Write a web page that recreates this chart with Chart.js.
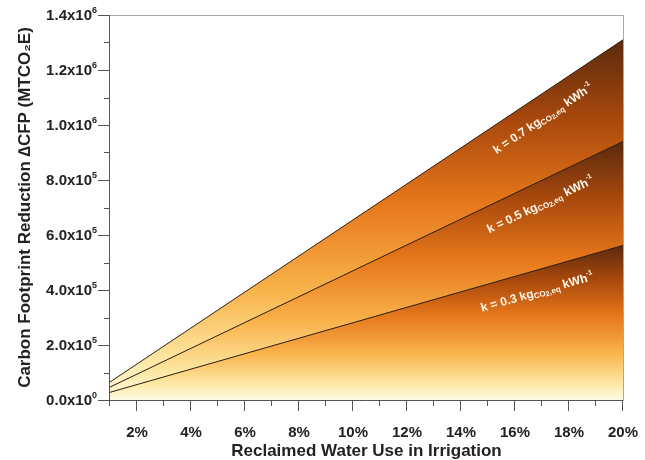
<!DOCTYPE html>
<html>
<head>
<meta charset="UTF-8">
<title>Carbon Footprint Reduction</title>
<script src="https://cdn.jsdelivr.net/npm/chart.js"></script>
<style>
  body { margin: 0; background: #fff; }
  #wrap { width: 645px; height: 460px; }
</style>
</head>
<body>
<div id="wrap"><canvas id="grafico"></canvas></div>
<script>
// reclaimed water use (%) at the two ends of each line
const usoAgua = [1, 20];
// carbon footprint reduction (MTCO2E) per emission factor k
const k07 = [65500, 1310000];
const k05 = [47000, 940000];
const k03 = [28000, 562000];
const fatores = ['0.3', '0.5', '0.7'];
const yMantissa = ['0.0', '2.0', '4.0', '6.0', '8.0', '1.0', '1.2', '1.4'];
const yExpoente = ['0', '5', '5', '5', '5', '6', '6', '6'];
const xTickLabels = ['2%', '4%', '6%', '8%', '10%', '12%', '14%', '16%', '18%', '20%'];

const FONTE = '"Liberation Sans", Arial, sans-serif';
Chart.defaults.font.family = FONTE;
Chart.defaults.color = '#222';

function pontos(valores) {
    return usoAgua.map((x, i) => ({ x: x, y: valores[i] }));
}

// vertical gradient from the top of each area (dark) down to zero (cream)
function gradiente(ctx) {
    const chart = ctx.chart;
    if (!chart.chartArea) return 'rgba(0,0,0,0)';
    const y = chart.scales.y;
    const maximo = Math.max(...ctx.dataset.data.map(p => p.y));
    const topo = y.getPixelForValue(maximo);
    const base = y.getPixelForValue(0);
    const g = chart.ctx.createLinearGradient(0, topo, 0, base);
    g.addColorStop(0, '#5a2a0e');
    g.addColorStop(0.22, '#a8480c');
    g.addColorStop(0.45, '#e6761a');
    g.addColorStop(0.7, '#f9b44c');
    g.addColorStop(0.88, '#fde59e');
    g.addColorStop(1, '#fffbe2');
    return g;
}

function serie(valores) {
    return {
        data: pontos(valores),
        borderColor: '#2b1d10',
        borderWidth: 1,
        pointRadius: 0,
        fill: 'origin',
        backgroundColor: gradiente
    };
}

// frame, tick marks, y labels with exponents and the k labels
const moldura = {
    id: 'moldura',
    afterDatasetsDraw(chart) {
        const ctx = chart.ctx;
        const x = chart.scales.x, y = chart.scales.y;
        chart.data.datasets.forEach((ds, i) => {
            const a = ds.data[0], b = ds.data[ds.data.length - 1];
            const x0 = x.getPixelForValue(a.x), y0 = y.getPixelForValue(a.y);
            const x1 = x.getPixelForValue(b.x), y1 = y.getPixelForValue(b.y);
            const ang = Math.atan2(y1 - y0, x1 - x0);
            const px = x.getPixelForValue(16.6);
            const py = y0 + (px - x0) / (x1 - x0) * (y1 - y0);
            const partes = [
                { t: 'k = ' + fatores[i] + ' kg', s: 12, dy: 0 },
                { t: 'CO', s: 8, dy: 2 },
                { t: '2', s: 7, dy: 3 },
                { t: ',eq', s: 8, dy: 2 },
                { t: ' kWh', s: 12, dy: 0 },
                { t: '-1', s: 7, dy: -6 }
            ];
            ctx.save();
            let total = 0;
            partes.forEach(p => {
                ctx.font = 'bold ' + p.s + 'px ' + FONTE;
                p.w = ctx.measureText(p.t).width;
                total += p.w;
            });
            ctx.translate(px, py);
            ctx.rotate(ang);
            ctx.fillStyle = '#fff6ea';
            ctx.textBaseline = 'alphabetic';
            ctx.textAlign = 'left';
            let cx = -total / 2;
            partes.forEach(p => {
                ctx.font = 'bold ' + p.s + 'px ' + FONTE;
                ctx.fillText(p.t, cx, 25 + p.dy);
                cx += p.w;
            });
            ctx.restore();
        });
    },
    afterDraw(chart) {
        const ctx = chart.ctx;
        const area = chart.chartArea;
        const x = chart.scales.x, y = chart.scales.y;
        ctx.save();
        ctx.lineWidth = 1;
        ctx.strokeStyle = '#a8a8a8';
        ctx.beginPath();
        ctx.moveTo(area.left, area.top + 0.5);
        ctx.lineTo(area.right + 0.5, area.top + 0.5);
        ctx.lineTo(area.right + 0.5, area.bottom);
        ctx.stroke();
        ctx.strokeStyle = '#555';
        ctx.beginPath();
        ctx.moveTo(area.left - 0.5, area.top);
        ctx.lineTo(area.left - 0.5, area.bottom + 0.5);
        ctx.lineTo(area.right + 0.5, area.bottom + 0.5);
        x.ticks.forEach(t => {
            const px = Math.round(x.getPixelForValue(t.value)) - 0.5;
            const len = t.value % 2 === 0 ? 11 : 6;
            ctx.moveTo(px, area.bottom);
            ctx.lineTo(px, area.bottom + len);
        });
        y.ticks.forEach(t => {
            const py = Math.round(y.getPixelForValue(t.value)) + 0.5;
            const len = Math.round(t.value / 100000) % 2 === 0 ? 12 : 6;
            ctx.moveTo(area.left, py);
            ctx.lineTo(area.left - len, py);
        });
        ctx.stroke();

        // y tick labels: mantissa x10 with raised exponent
        ctx.fillStyle = '#222';
        ctx.textBaseline = 'alphabetic';
        ctx.textAlign = 'left';
        y.ticks.forEach(t => {
            const n = Math.round(t.value / 100000);
            if (n % 2 !== 0) return;
            const py = y.getPixelForValue(t.value);
            const base = yMantissa[n / 2] + 'x10';
            const exp = yExpoente[n / 2];
            ctx.font = 'bold 9px ' + FONTE;
            const we = ctx.measureText(exp).width;
            ctx.font = 'bold 15px ' + FONTE;
            const wb = ctx.measureText(base).width;
            const fim = area.left - 13;
            ctx.fillText(base, fim - we - wb, py + 5);
            ctx.font = 'bold 9px ' + FONTE;
            ctx.fillText(exp, fim - we, py - 2);
        });
        ctx.restore();
    }
};

new Chart(document.getElementById('grafico'), {
    type: 'line',
    data: {
        datasets: [serie(k03), serie(k05), serie(k07)]
    },
    options: {
        responsive: true,
        maintainAspectRatio: false,
        animation: false,
        layout: { padding: { top: 15, right: 22, left: 0, bottom: 0 } },
        plugins: {
            legend: { display: false },
            tooltip: { enabled: false }
        },
        scales: {
            x: {
                type: 'linear',
                min: 1,
                max: 20,
                grid: { display: false, drawTicks: false },
                border: { display: false },
                afterFit: s => {
                    s.height = 60;
                    s.paddingLeft = 0;
                    s.paddingRight = 0;
                },
                ticks: {
                    stepSize: 1,
                    autoSkip: false,
                    maxRotation: 0,
                    padding: 24,
                    color: '#222',
                    font: { size: 15, weight: 'bold' },
                    callback: v => (v % 2 === 0 ? xTickLabels[v / 2 - 1] : '')
                },
                title: {
                    display: true,
                    text: 'Reclaimed Water Use in Irrigation',
                    color: '#222',
                    font: { size: 17, weight: 'bold' },
                    padding: { top: 0, bottom: -2 }
                }
            },
            y: {
                min: 0,
                max: 1400000,
                grid: { display: false, drawTicks: false },
                border: { display: false },
                afterFit: s => {
                    s.width = 110;
                    s.paddingTop = 0;
                    s.paddingBottom = 0;
                },
                ticks: {
                    stepSize: 100000,
                    autoSkip: false,
                    padding: 13,
                    callback: () => ''
                },
                title: {
                    display: true,
                    text: 'Carbon Footprint Reduction ∆CFP (MTCO₂E)',
                    color: '#222',
                    font: { size: 17, weight: 'bold' },
                    padding: { top: 15, bottom: 0 }
                }
            }
        }
    },
    plugins: [moldura]
});
</script>
</body>
</html>
